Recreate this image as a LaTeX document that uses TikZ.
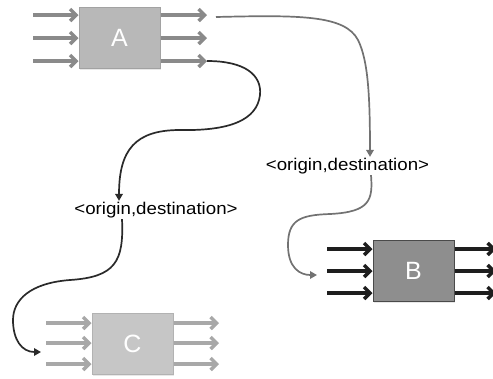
\documentclass[tikz,border=0pt]{standalone}
\usepackage{fontspec}
\setmainfont{Liberation Sans}
\usetikzlibrary{arrows.meta,shadows}
\definecolor{afill}{HTML}{B8B8B8}
\definecolor{aline}{HTML}{A2A2A2}
\definecolor{astub}{HTML}{8A8A8A}
\definecolor{bfill}{HTML}{8E8E8E}
\definecolor{bline}{HTML}{4A4A4A}
\definecolor{bstub}{HTML}{1E1E1E}
\definecolor{cfill}{HTML}{C6C6C6}
\definecolor{cline}{HTML}{B2B2B2}
\definecolor{cstub}{HTML}{A8A8A8}
\definecolor{graycurve}{HTML}{727272}
\definecolor{darkcurve}{HTML}{2A2A2A}
\tikzset{
  boxnode/.style={rectangle, minimum width=81pt, minimum height=61pt, inner sep=0pt,
    line width=1pt, text=white, font=\fontsize{25}{30}\selectfont,
    drop shadow={opacity=0.18, shadow xshift=1.2pt, shadow yshift=-1.5pt}},
  stub/.style={line width=3.6pt, -{Straight Barb[length=6pt,width=12pt,line width=3.4pt]}},
  curvearrow/.style={line width=1.7pt, -{Triangle[length=7pt,width=7.5pt]}},
  lbl/.style={inner sep=1pt, font=\fontsize{17}{20}\selectfont}
}
\begin{document}
\begin{tikzpicture}[x=1pt,y=-1pt]
\useasboundingbox (0,0) rectangle (493,378);
\clip (0,0) rectangle (493,378);
% boxes
\node[boxnode, fill=afill, draw=aline] (A) at (119.5,37.5) {A};
\node[boxnode, fill=bfill, draw=bline] (B) at (413.5,271) {B};
\node[boxnode, fill=cfill, draw=cline] (C) at (132.5,343.5) {C};
% labels
\node[lbl] (L1) at (347.5,166) {\scalebox{1.1}[1]{<origin,destination>}};
\node[lbl] (L2) at (156,210) {\scalebox{1.1}[1]{<origin,destination>}};
% stub coordinates
\coordinate (ai1) at (33,15); \coordinate (ai2) at (33,38); \coordinate (ai3) at (33,61);
\coordinate (ao1) at (207,15); \coordinate (ao2) at (207,38); \coordinate (ao3) at (207,61);
\coordinate (bi1) at (327,249); \coordinate (bi2) at (327,271); \coordinate (bi3) at (327,293);
\coordinate (bo1) at (496,249); \coordinate (bo2) at (496,271); \coordinate (bo3) at (496,293);
\coordinate (ci1) at (46,323); \coordinate (ci2) at (46,343); \coordinate (ci3) at (46,364);
\coordinate (co1) at (219,323); \coordinate (co2) at (219,343); \coordinate (co3) at (219,364);
% stubs
\foreach \i in {1,2,3} {
  \draw[stub, astub] (ai\i) -- (ai\i -| A.west);
  \draw[stub, astub] (ao\i -| A.east) -- (ao\i);
  \draw[stub, bstub] (bi\i) -- (bi\i -| B.west);
  \draw[stub, bstub] (bo\i -| B.east) -- (bo\i);
  \draw[stub, cstub] (ci\i) -- (ci\i -| C.west);
  \draw[stub, cstub] (co\i -| C.east) -- (co\i);
}
% curve ends
\coordinate (g1s) at (216,17);
\coordinate (b2e) at (317,275);
\coordinate (c2e) at (41,352);
% gray path A -> L1 -> B
\draw[curvearrow, graycurve] (g1s) .. controls (300,15) and (345,15) .. (358,40)
  .. controls (368,60) and (370,95) .. (L1.north -| 370,0);
\draw[curvearrow, graycurve] (L1.south -| 371,0) .. controls (373,200) and (370,212) .. (330,214)
  .. controls (300,215) and (288,220) .. (288,245)
  .. controls (288,268) and (300,275) .. (b2e);
% dark path A -> L2 -> C
\draw[curvearrow, darkcurve] (ao3) .. controls (245,61) and (262,75) .. (260,95)
  .. controls (257,120) and (230,131) .. (180,130)
  .. controls (135,130) and (119,150) .. (L2.north -| 119,0);
\draw[curvearrow, darkcurve] (L2.south -| 122,0) .. controls (124,262) and (115,277) .. (70,280)
  .. controls (30,283) and (13,300) .. (13,320)
  .. controls (13,340) and (22,352) .. (c2e);
\end{tikzpicture}
\end{document}
